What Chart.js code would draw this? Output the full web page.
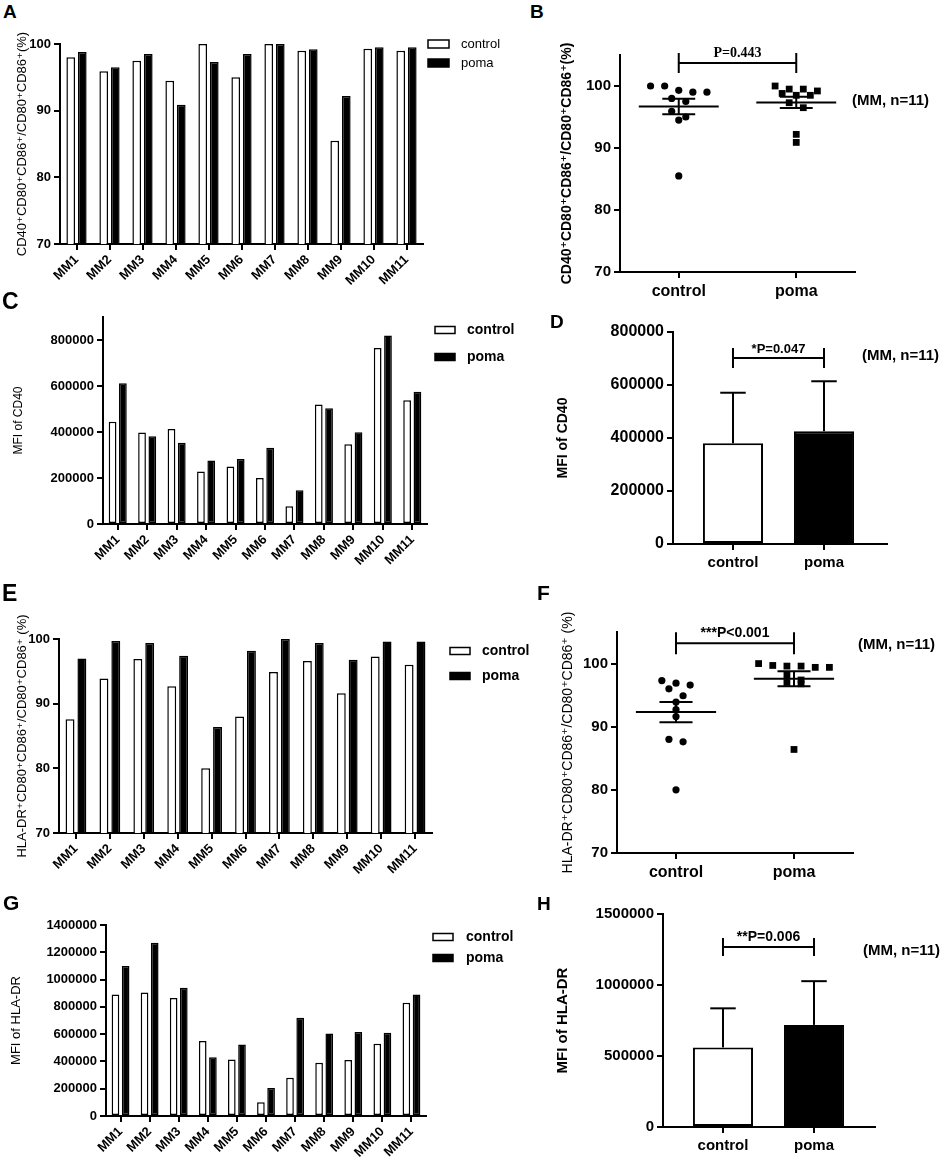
<!DOCTYPE html>
<html>
<head>
<meta charset="utf-8">
<script src="https://cdn.jsdelivr.net/npm/chart.js@4.4.1/dist/chart.umd.min.js"></script>
<style>
  body { margin: 0; background: #fff; }
  #fig { position: relative; width: 941px; height: 1160px; font-family: "Liberation Sans", Arial, "DejaVu Sans", sans-serif; color: #000; }
  canvas { position: absolute; }
  .tag { position: absolute; font-weight: bold; line-height: 1; }
  .note { position: absolute; font-weight: bold; font-size: 15px; line-height: 1; white-space: nowrap; }
</style>
</head>
<body>
<div id="fig">
  <canvas id="cA" width="540" height="260" style="left:0;top:30px"></canvas>
  <canvas id="cB" width="421" height="280" style="left:520px;top:30px"></canvas>
  <canvas id="cC" width="540" height="285" style="left:0;top:300px"></canvas>
  <canvas id="cD" width="421" height="275" style="left:520px;top:305px"></canvas>
  <canvas id="cE" width="540" height="290" style="left:0;top:590px"></canvas>
  <canvas id="cF" width="421" height="295" style="left:520px;top:590px"></canvas>
  <canvas id="cG" width="540" height="275" style="left:0;top:885px"></canvas>
  <canvas id="cH" width="421" height="265" style="left:520px;top:895px"></canvas>

  <div class="tag" style="left:3px;top:2px;font-size:19px">A</div>
  <div class="tag" style="left:530px;top:2px;font-size:19px">B</div>
  <div class="tag" style="left:2px;top:290px;font-size:23px">C</div>
  <div class="tag" style="left:550px;top:312px;font-size:19px">D</div>
  <div class="tag" style="left:2px;top:582px;font-size:23px">E</div>
  <div class="tag" style="left:537px;top:582px;font-size:21px">F</div>
  <div class="tag" style="left:3px;top:892px;font-size:21px">G</div>
  <div class="tag" style="left:537px;top:894px;font-size:19px">H</div>

  <div class="note" style="left:852px;top:92px">(MM, n=11)</div>
  <div class="note" style="left:862px;top:347px">(MM, n=11)</div>
  <div class="note" style="left:858px;top:636px">(MM, n=11)</div>
  <div class="note" style="left:863px;top:942px">(MM, n=11)</div>
</div>
<script>
const patients = ['MM1', 'MM2', 'MM3', 'MM4', 'MM5', 'MM6', 'MM7', 'MM8', 'MM9', 'MM10', 'MM11'];
const groups = ['control', 'poma'];

// CD40+CD80+CD86+/CD80+CD86+ (%)
const cd40PctControl = [98.0, 95.9, 97.5, 94.5, 100, 95.0, 100, 99.0, 85.5, 99.3, 99.0];
const cd40PctPoma = [98.8, 96.5, 98.5, 90.9, 97.3, 98.5, 100, 99.2, 92.2, 99.5, 99.5];

// MFI of CD40
const cd40MfiControl = [445000, 398000, 413000, 228000, 250000, 200000, 77000, 520000, 347000, 765000, 538000];
const cd40MfiPoma = [612000, 381000, 353000, 276000, 283000, 331000, 147000, 503000, 399000, 820000, 575000];

// HLA-DR+CD80+CD86+/CD80+CD86+ (%)
const hlaPctControl = [87.6, 93.9, 96.9, 92.7, 80.0, 88.0, 94.9, 96.6, 91.6, 97.3, 96.0];
const hlaPctPoma = [97.0, 99.7, 99.4, 97.4, 86.4, 98.2, 100, 99.4, 96.8, 99.6, 99.6];

// MFI of HLA-DR
const hlaMfiControl = [890000, 905000, 865000, 550000, 415000, 100000, 280000, 390000, 410000, 530000, 830000];
const hlaMfiPoma = [1100000, 1270000, 940000, 430000, 525000, 205000, 720000, 605000, 615000, 610000, 890000];

const pLabels = ['P=0.443', '*P=0.047', '***P<0.001', '**P=0.006'];

const mean = a => a.reduce((s, v) => s + v, 0) / a.length;
const sd = a => { const m = mean(a); return Math.sqrt(a.reduce((s, v) => s + (v - m) ** 2, 0) / (a.length - 1)); };
const sem = a => sd(a) / Math.sqrt(a.length);

// spread close values sideways in rows, like a column scatter plot
function swarm(values, center, rowTol, step) {
  const order = values.map((v, i) => i).sort((a, b) => values[b] - values[a]);
  const out = new Array(values.length);
  let row = [];
  const flush = () => {
    row.forEach((idx, k) => { out[idx] = { x: center + (k - (row.length - 1) / 2) * step, y: values[idx] }; });
    row = [];
  };
  order.forEach(idx => {
    if (row.length && values[row[0]] - values[idx] > rowTol) flush();
    row.push(idx);
  });
  flush();
  return out;
}

Chart.defaults.font.family = '"Liberation Sans", Arial, "DejaVu Sans", sans-serif';
Chart.defaults.color = '#000';

const boxLegend = {
  id: 'boxLegend',
  afterDraw(chart, args, o) {
    if (o.x === undefined) return;
    const ctx = chart.ctx;
    ctx.save();
    ctx.font = o.font;
    ctx.textBaseline = 'middle';
    chart.data.datasets.forEach((ds, i) => {
      const y = o.y + i * o.gap;
      ctx.fillStyle = ds.backgroundColor;
      ctx.fillRect(o.x, y - o.h / 2, o.w, o.h);
      ctx.lineWidth = 1.5;
      ctx.strokeStyle = '#000';
      ctx.strokeRect(o.x, y - o.h / 2, o.w, o.h);
      ctx.fillStyle = '#000';
      ctx.fillText(ds.label, o.x + o.w + o.space, y);
    });
    ctx.restore();
  }
};

const groupSummary = {
  id: 'groupSummary',
  afterDatasetsDraw(chart, args, o) {
    if (!o.mode) return;
    const { ctx, scales: { x, y } } = chart;
    ctx.save();
    ctx.strokeStyle = '#000';
    ctx.lineWidth = 2;
    const seg = (x1, y1, x2, y2) => { ctx.beginPath(); ctx.moveTo(x1, y1); ctx.lineTo(x2, y2); ctx.stroke(); };
    if (o.mode === 'sem') {
      chart.data.datasets.forEach((ds, i) => {
        const vals = ds.data.map(p => p.y);
        const m = mean(vals), e = sem(vals), c = i + 1, cx = x.getPixelForValue(c);
        seg(x.getPixelForValue(c - o.meanHalf), y.getPixelForValue(m), x.getPixelForValue(c + o.meanHalf), y.getPixelForValue(m));
        seg(cx, y.getPixelForValue(m - e), cx, y.getPixelForValue(m + e));
        [m - e, m + e].forEach(v => seg(x.getPixelForValue(c - o.capHalf), y.getPixelForValue(v), x.getPixelForValue(c + o.capHalf), y.getPixelForValue(v)));
      });
    } else {
      chart.data.datasets[0].data.forEach((p, i) => {
        const top = p.y + o.spread[i], cx = x.getPixelForValue(p.x);
        seg(cx, y.getPixelForValue(p.y), cx, y.getPixelForValue(top));
        seg(x.getPixelForValue(p.x - o.capHalf), y.getPixelForValue(top), x.getPixelForValue(p.x + o.capHalf), y.getPixelForValue(top));
      });
    }
    ctx.restore();
  }
};

const sigBracket = {
  id: 'sigBracket',
  afterDraw(chart, args, o) {
    if (o.y === undefined) return;
    const { ctx, scales: { x, y } } = chart;
    const x1 = x.getPixelForValue(1), x2 = x.getPixelForValue(2), yy = y.getPixelForValue(o.y);
    ctx.save();
    ctx.strokeStyle = '#000';
    ctx.lineWidth = 2;
    ctx.beginPath();
    ctx.moveTo(x1, yy); ctx.lineTo(x2, yy);
    ctx.moveTo(x1, yy - o.tick); ctx.lineTo(x1, yy + o.tick);
    ctx.moveTo(x2, yy - o.tick); ctx.lineTo(x2, yy + o.tick);
    ctx.stroke();
    ctx.font = o.font;
    ctx.fillStyle = '#000';
    ctx.textAlign = 'center';
    ctx.textBaseline = 'middle';
    ctx.fillText(o.text, (x1 + x2) / 2, yy - o.lift);
    ctx.restore();
  }
};

Chart.register(boxLegend, groupSummary, sigBracket);

const axisGrid = () => ({ drawOnChartArea: false, drawTicks: true, tickLength: 6, color: '#000', lineWidth: 2, offset: false });
const axisBorder = () => ({ color: '#000', width: 2 });
const yTitle = (text, size, weight, pad) => ({ display: true, text, color: '#000', font: { size, weight }, padding: { top: pad, bottom: 0 } });

function yAxis(cfg) {
  return {
    min: cfg.min, max: cfg.max,
    grid: axisGrid(), border: axisBorder(),
    ticks: { padding: 3, font: { size: cfg.tickSize, weight: 'bold' }, callback: v => String(v) },
    title: cfg.title,
    afterBuildTicks: s => {
      const t = [];
      for (let v = cfg.min; v <= cfg.topTick + 1e-6; v += cfg.step) t.push({ value: v });
      s.ticks = t;
    },
    afterFit: s => { s.width = cfg.yw; }
  };
}

function patientBars(id, ctrl, poma, cfg) {
  new Chart(document.getElementById(id), {
    type: 'bar',
    data: {
      labels: patients,
      datasets: [
        { label: groups[0], data: ctrl, backgroundColor: '#fff', borderColor: '#000', borderWidth: 1.5, borderSkipped: false, categoryPercentage: 0.7, barPercentage: 0.75 },
        { label: groups[1], data: poma, backgroundColor: '#000', borderColor: '#000', borderWidth: 1.5, borderSkipped: false, categoryPercentage: 0.7, barPercentage: 0.75 }
      ]
    },
    options: {
      responsive: false, animation: false, events: [],
      layout: { padding: { top: cfg.top, right: cfg.right, left: 0, bottom: 0 } },
      plugins: { legend: { display: false }, tooltip: { enabled: false }, boxLegend: cfg.legend },
      scales: {
        x: {
          offset: true, grid: axisGrid(), border: axisBorder(),
          ticks: { autoSkip: false, maxRotation: 45, minRotation: 45, padding: 2, font: { size: 13, weight: 'bold' } },
          afterFit: s => { s.height = cfg.xh; }
        },
        y: yAxis(cfg)
      }
    }
  });
}

function groupScatter(id, ctrl, poma, cfg) {
  new Chart(document.getElementById(id), {
    type: 'scatter',
    data: {
      datasets: [
        { label: groups[0], data: swarm(ctrl, 1, 1.1, 0.12), pointStyle: 'circle', pointRadius: 3.6, backgroundColor: '#000', borderWidth: 0 },
        { label: groups[1], data: swarm(poma, 2, 1.1, 0.12), pointStyle: 'rect', pointRadius: 4.8, backgroundColor: '#000', borderWidth: 0 }
      ]
    },
    options: {
      responsive: false, animation: false, events: [],
      layout: { padding: { top: cfg.top, right: cfg.right, left: 0, bottom: 0 } },
      plugins: {
        legend: { display: false }, tooltip: { enabled: false },
        groupSummary: { mode: 'sem', meanHalf: 0.34, capHalf: 0.14 },
        sigBracket: cfg.bracket
      },
      scales: {
        x: {
          type: 'linear', min: 0.5, max: 2.5, grid: axisGrid(), border: axisBorder(),
          ticks: { padding: 4, font: { size: 16, weight: 'bold' }, callback: v => groups[v - 1] },
          afterBuildTicks: s => { s.ticks = [{ value: 1 }, { value: 2 }]; },
          afterFit: s => { s.height = cfg.xh; }
        },
        y: yAxis(cfg)
      }
    }
  });
}

function groupBars(id, ctrl, poma, cfg) {
  new Chart(document.getElementById(id), {
    type: 'bar',
    data: {
      datasets: [{
        label: 'mean',
        data: [{ x: 1, y: mean(ctrl) }, { x: 2, y: mean(poma) }],
        backgroundColor: ['#fff', '#000'], borderColor: '#000', borderWidth: 2, borderSkipped: false,
        categoryPercentage: 1, barPercentage: 0.66
      }]
    },
    options: {
      responsive: false, animation: false, events: [],
      layout: { padding: { top: cfg.top, right: cfg.right, left: 0, bottom: 0 } },
      plugins: {
        legend: { display: false }, tooltip: { enabled: false },
        groupSummary: { mode: 'sd', spread: [sd(ctrl), sd(poma)], capHalf: 0.14 },
        sigBracket: cfg.bracket
      },
      scales: {
        x: {
          type: 'linear', offset: false, min: cfg.xmin, max: cfg.xmax, grid: axisGrid(), border: axisBorder(),
          ticks: { padding: 4, font: { size: 15, weight: 'bold' }, callback: v => groups[v - 1] },
          afterBuildTicks: s => { s.ticks = [{ value: 1 }, { value: 2 }]; },
          afterFit: s => { s.height = cfg.xh; }
        },
        y: yAxis(cfg)
      }
    }
  });
}

const cd40PctTitle = 'CD40\u207ACD80\u207ACD86\u207A/CD80\u207ACD86\u207A(%)';
const hlaPctTitle = 'HLA-DR\u207ACD80\u207ACD86\u207A/CD80\u207ACD86\u207A (%)';

patientBars('cA', cd40PctControl, cd40PctPoma, {
  top: 14, right: 117, xh: 46, yw: 60, min: 70, max: 100, step: 10, topTick: 100, tickSize: 13,
  title: yTitle(cd40PctTitle, 13, 'normal', 15),
  legend: { x: 428, y: 14, gap: 19, w: 21, h: 8, space: 12, font: '13px "Liberation Sans", Arial, sans-serif' }
});

groupScatter('cB', cd40PctControl, cd40PctPoma, {
  top: 25, right: 86, xh: 38, yw: 100, min: 70, max: 105, step: 10, topTick: 100, tickSize: 15,
  title: yTitle(cd40PctTitle, 14, 'bold', 39),
  bracket: { y: 103.7, tick: 10, lift: 10, text: pLabels[0], font: 'bold 14px "Liberation Serif", "Times New Roman", serif' }
});

patientBars('cC', cd40MfiControl, cd40MfiPoma, {
  top: 17, right: 113, xh: 61, yw: 103, min: 0, max: 900000, step: 200000, topTick: 800000, tickSize: 13,
  title: yTitle('MFI of CD40', 12, 'normal', 11),
  legend: { x: 435, y: 30, gap: 27, w: 20, h: 7, space: 12, font: 'bold 14px "Liberation Sans", Arial, sans-serif' }
});

groupBars('cD', cd40MfiControl, cd40MfiPoma, {
  top: 27, right: 54, xh: 36, yw: 153, min: 0, max: 800000, step: 200000, topTick: 800000, tickSize: 16,
  xmin: 0.341, xmax: 2.692,
  title: yTitle('MFI of CD40', 14, 'bold', 35),
  bracket: { y: 702000, tick: 10, lift: 9, text: pLabels[1], font: 'bold 13px "Liberation Sans", Arial, sans-serif' }
});

patientBars('cE', hlaPctControl, hlaPctPoma, {
  top: 49, right: 108, xh: 47, yw: 59, min: 70, max: 100, step: 10, topTick: 100, tickSize: 13,
  title: yTitle(hlaPctTitle, 13, 'normal', 15),
  legend: { x: 450, y: 61, gap: 25, w: 20, h: 7, space: 12, font: 'bold 14px "Liberation Sans", Arial, sans-serif' }
});

groupScatter('cF', hlaPctControl, hlaPctPoma, {
  top: 42, right: 88, xh: 32, yw: 97, min: 70, max: 105, step: 10, topTick: 100, tickSize: 15,
  title: yTitle(hlaPctTitle, 14, 'normal', 40),
  bracket: { y: 103.2, tick: 11, lift: 10, text: pLabels[2], font: 'bold 14px "Liberation Sans", Arial, sans-serif' }
});

patientBars('cG', hlaMfiControl, hlaMfiPoma, {
  top: 40, right: 114, xh: 44, yw: 106, min: 0, max: 1400000, step: 200000, topTick: 1400000, tickSize: 13,
  title: yTitle('MFI of HLA-DR', 13, 'normal', 9),
  legend: { x: 433, y: 52, gap: 21, w: 20, h: 7, space: 13, font: 'bold 14px "Liberation Sans", Arial, sans-serif' }
});

groupBars('cH', hlaMfiControl, hlaMfiPoma, {
  top: 19, right: 66, xh: 33, yw: 143, min: 0, max: 1500000, step: 500000, topTick: 1500000, tickSize: 15,
  xmin: 0.341, xmax: 2.67,
  title: yTitle('MFI of HLA-DR', 15, 'bold', 34),
  bracket: { y: 1268000, tick: 9, lift: 10, text: pLabels[3], font: 'bold 14px "Liberation Sans", Arial, sans-serif' }
});
</script>
</body>
</html>
